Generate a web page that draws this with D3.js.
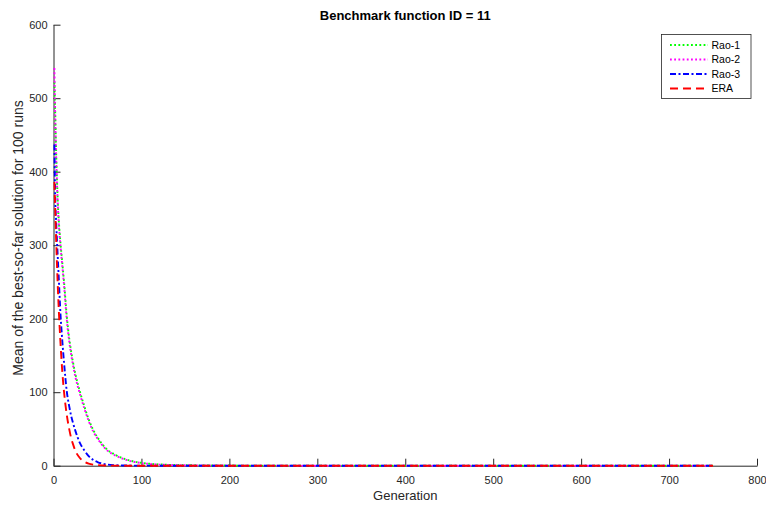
<!DOCTYPE html>
<html><head><meta charset="utf-8">
<script src="https://cdn.jsdelivr.net/npm/d3@7"></script>
<style>
html,body{margin:0;padding:0;background:#fff;}
svg{display:block;font-family:"Liberation Sans",Arial,Helvetica,sans-serif;}
</style></head>
<body>
<svg id="c" width="766" height="508"></svg>
<script>
const generations = [1,2,3,4,5,6,8,10,12,15,18,20,22,25,30,35,40,45,50,60,70,80,90,100,120,150,200,300,400,500,600,700,750];
const rao1 = [522,478,428,388,356,334,302,276,250,205,172,156,142,124,101,81,63,49,38.5,23,15,9.5,6,3.9,1.8,0.7,0.2,0.02,0.01,0,0,0,0];
const rao2 = [541,470,420,382,352,330,298,272,245,200,168,152,138,120,98,78,61,47,37,22,14,9,5.6,3.6,1.6,0.6,0.15,0.02,0.01,0,0,0,0];
const rao3 = [437,362,332,305,280,255,205,170,140,102,80,68,59,47,31,21,13,8,5,1.8,0.7,0.3,0.15,0.08,0.03,0.01,0,0,0,0,0,0,0];
const era  = [386,348,308,272,240,212,166,128,100,70,49,38,30,20,10.5,5.5,2.8,1.4,0.8,0.25,0.1,0.04,0.02,0.01,0,0,0,0,0,0,0,0,0];
const seriesNames = ["Rao-1","Rao-2","Rao-3","ERA"];
const xTicks = [0,100,200,300,400,500,600,700,800];
const yTicks = [0,100,200,300,400,500,600];

const series = [
  {name:seriesNames[0], values:rao1, color:"#00ff00", dash:"1.8,2.4"},
  {name:seriesNames[1], values:rao2, color:"#ff00ff", dash:"1.8,2.4"},
  {name:seriesNames[2], values:rao3, color:"#0000ff", dash:"6,2.5,2,2.5"},
  {name:seriesNames[3], values:era,  color:"#ff0000", dash:"8,5"}
];

const svg = d3.select("#c");
const L = 53.5, R = 757, T = 24.7, B = 465.7;
const x = d3.scaleLinear().domain([0,800]).range([L,R]);
const y = d3.scaleLinear().domain([0,600]).range([B,T]);
const axisColor = "#262626";

// axes
const gx = svg.append("g").attr("transform",`translate(0,${B})`)
  .call(d3.axisBottom(x).tickValues(xTicks).tickSizeInner(-7).tickSizeOuter(0).tickPadding(11));
const gy = svg.append("g").attr("transform",`translate(${L},0)`)
  .call(d3.axisLeft(y).tickValues(yTicks).tickSizeInner(-7).tickSizeOuter(0).tickPadding(6));
[gx,gy].forEach(g=>{
  g.select(".domain").attr("stroke",axisColor).attr("stroke-width",1);
  g.selectAll(".tick line").attr("stroke",axisColor).attr("stroke-width",1);
  g.selectAll(".tick text").attr("fill",axisColor).attr("font-size",11)
   .attr("font-family","'Liberation Sans',Arial,sans-serif");
});

// lines
const line = d3.line().x((d,i)=>x(generations[i])).y(d=>y(d)).curve(d3.curveMonotoneX);
series.forEach(s=>{
  svg.append("path").datum(s.values).attr("d",line)
    .attr("fill","none").attr("stroke",s.color).attr("stroke-width",1.9)
    .attr("stroke-dasharray",s.dash);
});

// title & labels
svg.append("text").attr("x",(L+R)/2).attr("y",20).attr("text-anchor","middle")
  .attr("font-size",13).attr("font-weight","bold").attr("fill","#000")
  .text("Benchmark function ID = 11");
svg.append("text").attr("x",(L+R)/2).attr("y",500).attr("text-anchor","middle")
  .attr("font-size",13).attr("fill",axisColor).text("Generation");
svg.append("text").attr("transform",`translate(23,238) rotate(-90)`)
  .attr("text-anchor","middle").attr("font-size",14).attr("fill",axisColor)
  .text("Mean of the best-so-far solution for 100 runs");

// legend
const lg = svg.append("g");
lg.append("rect").attr("x",661.5).attr("y",34.5).attr("width",89.5).attr("height",64)
  .attr("fill","#fff").attr("stroke",axisColor).attr("stroke-width",0.8);
const ly = [45,59.5,74,88.5];
series.forEach((s,i)=>{
  lg.append("line").attr("x1",670).attr("x2",708).attr("y1",ly[i]).attr("y2",ly[i])
    .attr("stroke",s.color).attr("stroke-width",1.9).attr("stroke-dasharray",s.dash);
  lg.append("text").attr("x",711.5).attr("y",ly[i]+3.8).attr("font-size",10.5)
    .attr("fill","#000").text(s.name);
});
</script>
</body></html>
